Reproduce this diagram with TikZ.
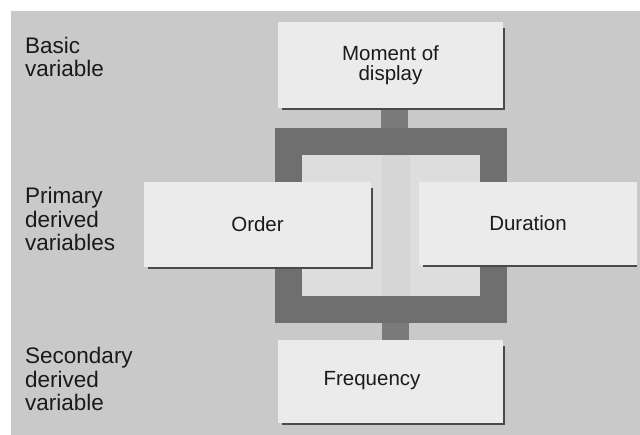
\documentclass[tikz,border=0pt]{standalone}
\usepackage{fontspec}
\setmainfont{Liberation Sans}
\definecolor{bgc}{HTML}{C9C9C9}
\definecolor{boxc}{HTML}{EBEBEB}
\definecolor{innerc}{HTML}{DDDDDD}
\definecolor{bandc}{HTML}{D6D6D6}
\definecolor{brk}{HTML}{6F6F6F}
\definecolor{stubc}{HTML}{7A7A7A}
\definecolor{shd}{HTML}{4A4A4A}
\definecolor{txt}{HTML}{1A1A1A}
\pgfdeclarelayer{bg}
\pgfdeclarelayer{mid}
\pgfsetlayers{bg,mid,main}
\begin{document}
\begin{tikzpicture}[x=1pt,y=-1pt,
  box/.style={fill=boxc, inner sep=0pt, align=center, text=txt, font=\fontsize{20.5}{20.5}\selectfont},
  boxtext/.style={inner sep=0pt, text=txt, font=\fontsize{20.5}{20.5}\selectfont},
  lab/.style={anchor=north west, inner sep=0pt, align=left, text=txt, font=\fontsize{22.5}{23.5}\selectfont},
  bracket/.style={draw=brk, line width=27pt, line join=miter},
  stub/.style={draw=stubc, line width=27pt},
  shade/.style={draw=shd, line width=2pt}]
\useasboundingbox (0,0) rectangle (640,435);
\begin{pgfonlayer}{bg}
  \fill[white] (0,0) rectangle (640,435);
  \fill[bgc] (11,11) rectangle (640,435);
  \fill[innerc] (302,155) rectangle (480,297);
  \fill[bandc] (382,155) rectangle (410,297);
\end{pgfonlayer}

% labels
\node[lab] (basic) at (25,37) {Basic\\variable};
\node[lab] (primary) at (25,187) {Primary\\derived\\variables};
\node[lab] (secondary) at (25,347) {Secondary\\derived\\variable};

% boxes
\node[box, minimum width=225pt, minimum height=86pt] (moment) at (390.5,65) {Moment of\\display};
\node[box, minimum width=227pt, minimum height=85pt] (order) at (257.5,224.5) {Order};
\node[box, minimum width=218pt, minimum height=83pt] (duration) at (528,223.5) {Duration};
\node[box, minimum width=225pt, minimum height=83pt] (freq) at (390.5,381.5) {};
\node[boxtext] (freqtext) at (372,381) {Frequency};

% shadows
\draw[shade] ([shift={(4,1)}]moment.south west) -- ([shift={(1,1)}]moment.south east) -- ([shift={(1,6)}]moment.north east);
\draw[shade] ([shift={(4,1)}]order.south west) -- ([shift={(1,1)}]order.south east) -- ([shift={(1,6)}]order.north east);
\draw[shade] ([shift={(4,1)}]duration.south west) -- ([shift={(0,1)}]duration.south east);
\draw[shade] ([shift={(4,1)}]freq.south west) -- ([shift={(1,1)}]freq.south east) -- ([shift={(1,6)}]freq.north east);

% connectors
\coordinate (tl) at (288.5,141.5);
\coordinate (tr) at (493.5,141.5);
\coordinate (bl) at (288.5,310);
\coordinate (br) at (493.5,310);
\coordinate (tjoin) at (394.5,128);
\coordinate (bjoin) at (395,323);
\begin{pgfonlayer}{mid}
  \draw[stub] (moment.south -| tjoin) -- (tjoin);
  \draw[stub] (bjoin) -- (freq.north -| bjoin);
  \draw[bracket] (order.north -| tl) -- (tl) -- (tr) -- (duration.north -| tr);
  \draw[bracket] (order.south -| bl) -- (bl) -- (br) -- (duration.south -| br);
\end{pgfonlayer}
\end{tikzpicture}
\end{document}
